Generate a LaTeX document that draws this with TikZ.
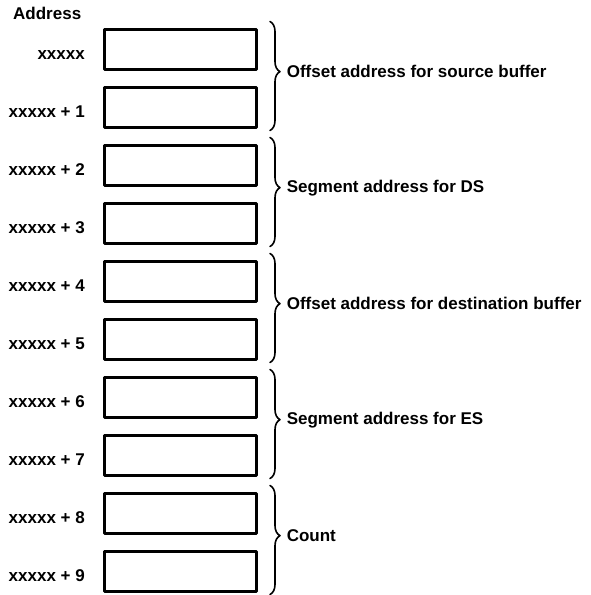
\documentclass[tikz,border=0pt]{standalone}
\usepackage{fontspec}
\setmainfont{Liberation Sans}
\usetikzlibrary{positioning,calc,decorations.pathreplacing}

\begin{document}
\begin{tikzpicture}[x=1pt,y=-1pt,line cap=round,line join=round,
  font=\fontsize{17}{20}\selectfont\bfseries,node distance=15pt,
  cell/.style={draw,line width=3pt,minimum width=152pt,minimum height=40pt,inner sep=0pt},
  addr/.style={anchor=base east,inner sep=0pt},
  brc/.style={decorate,decoration={brace,amplitude=10pt,aspect=.46},line width=1.6pt},
  grp/.style={pos=.46,right=16pt,inner sep=0pt}]
\useasboundingbox (0,0) rectangle (590,595);
\node[anchor=base west,inner sep=0pt] (hdr) at (13,19) {Address};
\node[cell] (c0) at (180.5,49) {};
\node[cell,below=of c0] (c1) {};
\node[cell,below=of c1] (c2) {};
\node[cell,below=of c2] (c3) {};
\node[cell,below=of c3] (c4) {};
\node[cell,below=of c4] (c5) {};
\node[cell,below=of c5] (c6) {};
\node[cell,below=of c6] (c7) {};
\node[cell,below=of c7] (c8) {};
\node[cell,below=of c8] (c9) {};
\node[addr] (a0) at ($(c0.west)+(-18pt,-10pt)$) {xxxxx};
\node[addr] (a1) at ($(c1.west)+(-18pt,-10pt)$) {xxxxx + 1};
\node[addr] (a2) at ($(c2.west)+(-18pt,-10pt)$) {xxxxx + 2};
\node[addr] (a3) at ($(c3.west)+(-18pt,-10pt)$) {xxxxx + 3};
\node[addr] (a4) at ($(c4.west)+(-18pt,-10pt)$) {xxxxx + 4};
\node[addr] (a5) at ($(c5.west)+(-18pt,-10pt)$) {xxxxx + 5};
\node[addr] (a6) at ($(c6.west)+(-18pt,-10pt)$) {xxxxx + 6};
\node[addr] (a7) at ($(c7.west)+(-18pt,-10pt)$) {xxxxx + 7};
\node[addr] (a8) at ($(c8.west)+(-18pt,-10pt)$) {xxxxx + 8};
\node[addr] (a9) at ($(c9.west)+(-18pt,-10pt)$) {xxxxx + 9};
\draw[brc] ([xshift=12pt,yshift=6pt]c0.north east) -- node[grp] (g0) {Offset address for source buffer} ([xshift=12pt,yshift=-2pt]c1.south east);
\draw[brc] ([xshift=12pt,yshift=6pt]c2.north east) -- node[grp] (g1) {Segment address for DS} ([xshift=12pt,yshift=-2pt]c3.south east);
\draw[brc] ([xshift=12pt,yshift=6pt]c4.north east) -- node[grp] (g2) {Offset address for destination buffer} ([xshift=12pt,yshift=-2pt]c5.south east);
\draw[brc] ([xshift=12pt,yshift=6pt]c6.north east) -- node[grp] (g3) {Segment address for ES} ([xshift=12pt,yshift=-2pt]c7.south east);
\draw[brc] ([xshift=12pt,yshift=6pt]c8.north east) -- node[grp] (g4) {Count} ([xshift=12pt,yshift=-2pt]c9.south east);
\end{tikzpicture}
\end{document}
